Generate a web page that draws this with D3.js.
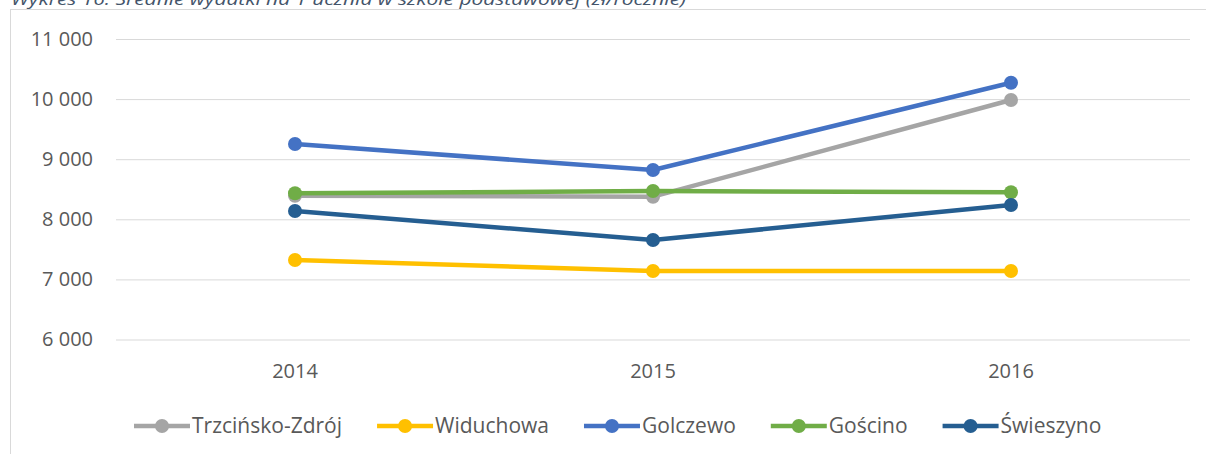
<!DOCTYPE html>
<html><head><meta charset="utf-8">
<script src="https://cdn.jsdelivr.net/npm/d3@7"></script>
<style>
html,body{margin:0;padding:0;background:#fff;overflow:hidden;}
svg{display:block;}
text{font-family:"Open Sans",Lato,sans-serif;}
</style></head>
<body>
<svg id="chart" width="1206" height="454"></svg>
<script>
const title = "Wykres 16. Średnie wydatki na 1 ucznia w szkole podstawowej (zł/rocznie)";
const years = ["2014", "2015", "2016"];
const seriesNames = ["Trzcińsko-Zdrój", "Widuchowa", "Golczewo", "Gościno", "Świeszyno"];
const trzcinsko = [8390, 8376, 9985];
const widuchowa = [7323, 7140, 7140];
const golczewo = [9253, 8820, 10273];
const goscino = [8433, 8471, 8449];
const swieszyno = [8138, 7656, 8238];
const yTicks = [6000, 7000, 8000, 9000, 10000, 11000];
const colors = ["#A5A5A5", "#FFC000", "#4472C4", "#70AD47", "#255E91"];

const series = [trzcinsko, widuchowa, golczewo, goscino, swieszyno].map((v, i) => ({name: seriesNames[i], values: v, color: colors[i]}));

const svg = d3.select("#chart");
const FS = 20;
const LFS = 21;

// title (cut at top, as in the source)
svg.append("text").attr("x", 11).attr("y", 4.5)
  .attr("font-style", "italic").attr("font-size", 16).attr("fill", "#44546A")
  .attr("textLength", 675).attr("lengthAdjust", "spacingAndGlyphs")
  .text(title);

// chart frame
svg.append("rect").attr("x", 10.5).attr("y", 9.5).attr("width", 1210).attr("height", 460)
  .attr("fill", "none").attr("stroke", "#D9D9D9").attr("stroke-width", 1);

const x = d3.scaleBand().domain(years).range([116, 1190]).paddingInner(0).paddingOuter(0);
const y = d3.scaleLinear().domain([6000, 11000]).range([339.5, 39]);
const fmt = v => d3.format(",")(v).replace(/,/g, " ");

// gridlines + y labels
const yAxis = d3.axisLeft(y).tickValues(yTicks).tickSize(-(1190 - 116)).tickPadding(23).tickFormat(fmt);
const gy = svg.append("g").attr("transform", "translate(116,0)").call(yAxis);
gy.select(".domain").remove();
gy.selectAll(".tick line").attr("stroke", "#D9D9D9").attr("stroke-width", 1);
gy.selectAll(".tick text").attr("fill", "#595959").attr("font-size", FS).attr("font-family", "Open Sans");

// x axis labels
const xAxis = d3.axisBottom(x).tickSize(0).tickPadding(24);
const gx = svg.append("g").attr("transform", "translate(0,339.5)").call(xAxis);
gx.select(".domain").remove();
gx.selectAll(".tick text").attr("fill", "#595959").attr("font-size", FS).attr("font-family", "Open Sans");

const cx = d => x(d) + x.bandwidth() / 2;
const line = d3.line().x((d, i) => cx(years[i])).y(d => y(d));

const gs = svg.append("g").selectAll("g").data(series).join("g");
gs.append("path").attr("d", d => line(d.values)).attr("fill", "none")
  .attr("stroke", d => d.color).attr("stroke-width", 4.5).attr("stroke-linejoin", "round").attr("stroke-linecap", "round");
gs.selectAll("circle").data(d => d.values.map((v, i) => ({v, i, color: d.color}))).join("circle")
  .attr("cx", d => cx(years[d.i])).attr("cy", d => y(d.v)).attr("r", 7).attr("fill", d => d.color);

// legend
const legend = svg.append("g");
let lx = 134;
const ly = 426;
series.forEach(s => {
  const g = legend.append("g");
  g.append("line").attr("x1", lx).attr("x2", lx + 56).attr("y1", ly).attr("y2", ly)
    .attr("stroke", s.color).attr("stroke-width", 4.5);
  g.append("circle").attr("cx", lx + 28).attr("cy", ly).attr("r", 7).attr("fill", s.color);
  const t = g.append("text").attr("x", lx + 58).attr("y", ly).attr("dy", "0.35em")
    .attr("fill", "#595959").attr("font-size", LFS).text(s.name);
  const w = t.node().getComputedTextLength();
  lx += 58 + w + 35;
});
</script>
</body></html>
